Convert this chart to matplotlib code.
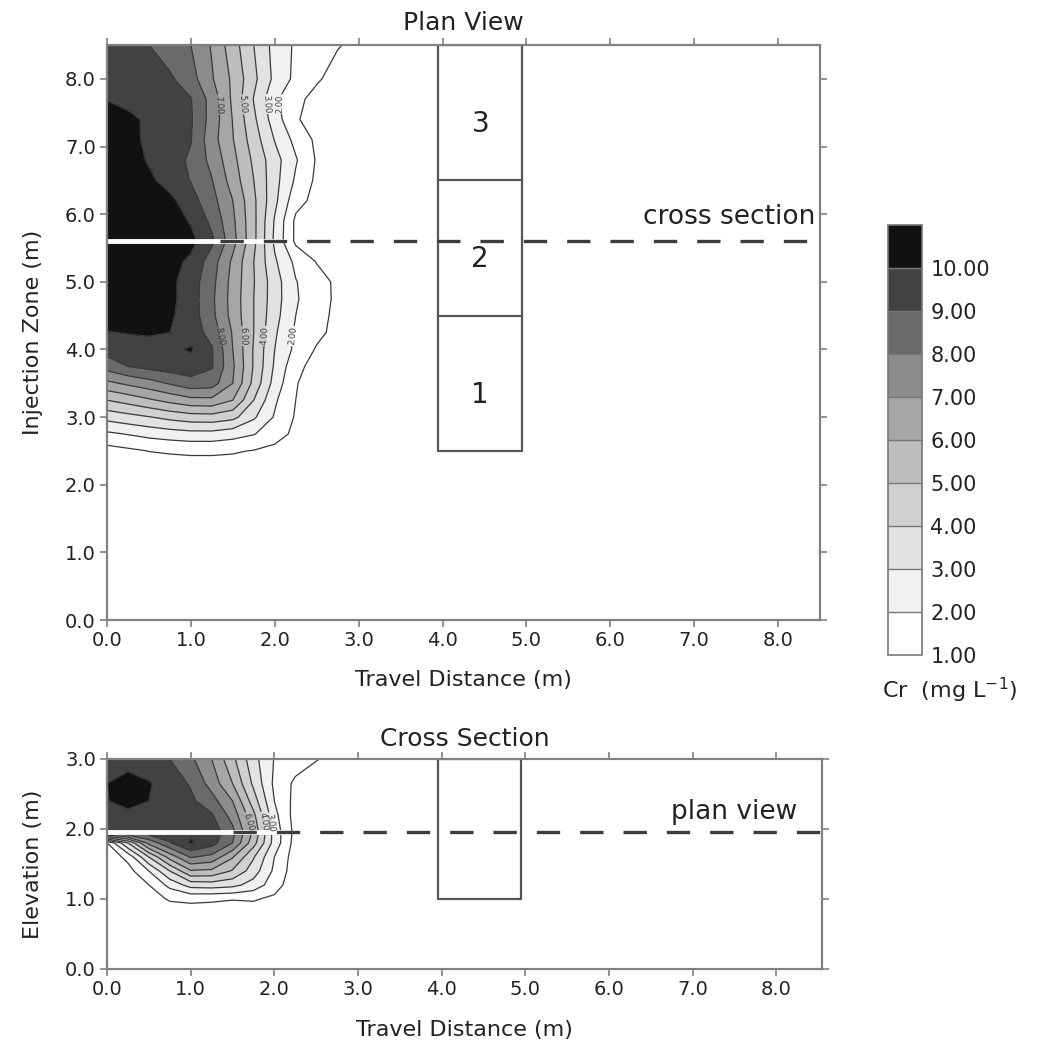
import numpy as np
import matplotlib.pyplot as plt
from matplotlib.patches import Rectangle

plt.rcParams['font.family'] = ['DejaVu Sans']

# Cr concentration (mg/L) on a coarse grid
x_grid = [0, 0.25, 0.5, 0.75, 1.0, 1.25, 1.5, 1.75, 2.0, 2.25, 2.5, 2.75, 3.0, 3.5, 8.5]

# plan view rows (injection zone, m)
y_plan = [0.0, 2.25, 2.5, 2.75, 3.0, 3.25, 3.5, 3.75, 4.0, 4.25, 4.5, 4.75,
          5.0, 5.3, 5.6, 5.9, 6.2, 6.5, 6.8, 7.1, 7.4, 7.7, 8.0, 8.5]
cr_plan = [
    [0] * 15,                                                                      # 0.0
    [0.3, 0.4, 0.5, 0.55, 0.6, 0.6, 0.55, 0.5, 0.4, 0.3, 0.2, 0.15, 0.1, 0.05, 0],   # 2.25
    [0.6, 0.8, 1.02, 1.1, 1.15, 1.15, 1.1, 0.95, 0.7, 0.45, 0.3, 0.2, 0.15, 0.05, 0],
    [1.8, 2.05, 2.3, 2.5, 2.65, 2.65, 2.4, 2.05, 1.45, 0.75, 0.45, 0.3, 0.2, 0.1, 0],
    [3.35, 3.65, 3.95, 4.3, 4.55, 4.6, 4.3, 3.15, 1.9, 0.9, 0.5, 0.35, 0.25, 0.1, 0],  # 3.0
    [5.0, 5.4, 5.85, 6.3, 6.7, 6.75, 6.0, 4.0, 2.15, 1.0, 0.55, 0.4, 0.3, 0.1, 0],
    [6.75, 7.2, 7.6, 8.1, 8.6, 8.45, 7.0, 4.7, 2.6, 1.05, 0.6, 0.4, 0.3, 0.1, 0],
    [8.45, 9.0, 9.3, 9.5, 9.6, 9.1, 7.15, 4.9, 2.85, 1.3, 0.6, 0.45, 0.3, 0.1, 0],
    [9.4, 9.5, 9.65, 9.8, 10.1, 9.1, 7.0, 4.9, 3.0, 1.75, 0.9, 0.55, 0.4, 0.15, 0],  # 4.0
    [9.95, 10.05, 10.1, 10.0, 9.6, 8.6, 6.9, 5.0, 3.15, 1.85, 1.25, 0.7, 0.45, 0.2, 0],
    [10.5, 10.5, 10.4, 10.15, 9.5, 8.25, 6.65, 5.0, 3.35, 2.0, 1.35, 0.75, 0.45, 0.2, 0],
    [10.9, 10.8, 10.5, 10.25, 9.5, 8.2, 6.6, 5.0, 3.45, 2.1, 1.45, 0.8, 0.5, 0.2, 0],
    [11.0, 10.9, 10.6, 10.25, 9.5, 8.3, 6.65, 5.05, 3.45, 2.05, 1.4, 0.8, 0.5, 0.2, 0],  # 5.0
    [11.1, 11.0, 10.8, 10.35, 9.8, 8.5, 6.8, 5.0, 3.15, 1.75, 0.95, 0.6, 0.4, 0.15, 0],
    [11.2, 11.15, 11.0, 10.7, 10.3, 9.2, 7.35, 5.25, 2.8, 0.8, 0.55, 0.4, 0.3, 0.1, 0],
    [11.2, 11.1, 10.9, 10.5, 9.9, 8.75, 7.2, 5.25, 2.9, 0.8, 0.55, 0.4, 0.3, 0.1, 0],
    [11.2, 11.0, 10.7, 10.25, 9.4, 8.35, 7.0, 5.2, 3.25, 1.35, 0.7, 0.5, 0.35, 0.15, 0],
    [11.2, 10.8, 10.2, 9.6, 8.95, 8.05, 6.55, 5.0, 3.35, 1.85, 0.8, 0.55, 0.4, 0.15, 0],
    [11.0, 10.5, 9.9, 9.4, 8.85, 7.7, 6.3, 4.8, 3.4, 2.1, 0.9, 0.6, 0.4, 0.15, 0],
    [10.8, 10.3, 9.8, 9.4, 9.05, 7.4, 6.05, 4.5, 2.95, 1.7, 0.8, 0.5, 0.35, 0.15, 0],
    [10.6, 10.2, 9.85, 9.45, 9.1, 7.6, 5.95, 4.2, 2.5, 1.1, 0.6, 0.4, 0.3, 0.1, 0],
    [9.95, 9.75, 9.55, 9.3, 9.05, 7.6, 5.8, 3.95, 2.2, 1.2, 0.75, 0.5, 0.35, 0.15, 0],
    [9.8, 9.6, 9.4, 9.15, 8.4, 7.1, 5.8, 4.25, 2.75, 1.75, 1.1, 0.7, 0.5, 0.25, 0],
    [9.6, 9.3, 9.0, 8.5, 8.0, 6.9, 5.45, 4.0, 2.65, 1.85, 1.45, 1.05, 0.8, 0.4, 0],  # 8.5
]

# cross section rows (elevation, m)
z_cross = [0.0, 0.8, 1.0, 1.2, 1.4, 1.6, 1.8, 1.95, 2.2, 2.4, 2.65, 3.0]
cr_cross = [
    [0] * 15,
    [0, 0.05, 0.3, 0.5, 0.55, 0.5, 0.45, 0.5, 0.35, 0.1, 0.05, 0.05, 0, 0, 0],
    [0, 0.1, 0.6, 1.1, 1.2, 1.15, 1.05, 1.1, 0.8, 0.2, 0.15, 0.1, 0.05, 0, 0],
    [0.05, 0.3, 1.0, 2.3, 3.4, 3.5, 3.3, 2.6, 1.45, 0.35, 0.2, 0.15, 0.1, 0.05, 0],
    [0.1, 0.6, 2.0, 4.0, 5.9, 5.8, 4.9, 3.5, 1.8, 0.45, 0.3, 0.2, 0.15, 0.05, 0],
    [0.3, 1.3, 4.0, 6.4, 8.1, 7.7, 6.1, 4.1, 2.0, 0.5, 0.35, 0.25, 0.15, 0.05, 0],
    [0.95, 4.0, 7.3, 8.9, 10.1, 9.4, 8.0, 5.4, 2.6, 0.6, 0.4, 0.3, 0.2, 0.1, 0],
    [9.0, 9.3, 9.5, 9.7, 9.9, 9.6, 8.3, 5.8, 2.6, 0.7, 0.45, 0.3, 0.2, 0.1, 0],
    [9.6, 9.7, 9.7, 9.55, 9.35, 9.1, 7.6, 5.25, 2.3, 0.6, 0.4, 0.3, 0.2, 0.1, 0],
    [9.95, 10.4, 10.0, 9.6, 9.2, 8.4, 7.0, 4.5, 2.0, 0.7, 0.45, 0.3, 0.2, 0.1, 0],
    [10.0, 10.6, 10.1, 9.5, 8.9, 7.6, 6.0, 3.8, 1.8, 0.8, 0.5, 0.35, 0.25, 0.1, 0],
    [9.5, 9.35, 9.2, 9.0, 8.2, 7.0, 5.25, 3.35, 1.95, 1.5, 1.05, 0.7, 0.5, 0.25, 0],
]

line_levels = [1, 2, 3, 4, 5, 6, 7, 8, 9, 10]
fill_levels = line_levels + [100]
greys = ['#ffffff', '#f1f1f1', '#e2e2e2', '#d0d0d0', '#bdbdbd',
         '#a6a6a6', '#8c8c8c', '#6a6a6a', '#424242', '#111111']

# injection zones and slice positions
zone_x = [3.95, 4.95]
zone_edges = [2.5, 4.5, 6.5, 8.5]
zone_names = ['1', '2', '3']
cross_y = 5.6
plan_z = 1.95
box_z = [1.0, 3.0]

spine_col = '#808080'
line_col = '#3a3a3a'


def style(ax):
    for s in ax.spines.values():
        s.set_color(spine_col)
        s.set_linewidth(1.6)
    ax.tick_params(direction='out', length=5, width=1.2, color=spine_col,
                   labelsize=14, labelcolor='#222222', top=True, right=True, pad=3)
    ax.set_xticks(range(9))
    ax.set_xticklabels([f'{v:.1f}' for v in range(9)])


fig = plt.figure(figsize=(10.46, 10.40), dpi=100)
ax1 = fig.add_axes([0.1023, 0.4038, 0.6816, 0.5529])
ax2 = fig.add_axes([0.1023, 0.0683, 0.6840, 0.2019])
cax = fig.add_axes([0.849, 0.370, 0.0325, 0.4135])

# plan view
cf = ax1.contourf(x_grid, y_plan, cr_plan, levels=fill_levels, colors=greys)
cs1 = ax1.contour(x_grid, y_plan, cr_plan, levels=line_levels, colors=line_col, linewidths=0.9)
ax1.clabel(cs1, fmt='%.2f', fontsize=6, inline_spacing=1,
           manual=[(1.33, 7.62), (1.6, 7.62), (1.85, 7.62), (2.0, 7.62),
                   (1.37, 4.2), (1.62, 4.2), (1.88, 4.2), (2.2, 4.2)])
ax1.plot([0, 2.1], [cross_y, cross_y], color='white', lw=3.5, solid_capstyle='butt')
ax1.plot([1.35, 8.5], [cross_y, cross_y], color='#3c3c3c', lw=2.4, ls=(0, (7, 6)))
ax1.add_patch(Rectangle((zone_x[0], zone_edges[0]), zone_x[1] - zone_x[0],
                        zone_edges[-1] - zone_edges[0], fill=False, ec='#555555', lw=1.6))
for e in zone_edges[1:-1]:
    ax1.plot(zone_x, [e, e], color='#555555', lw=1.6)
for i, name in enumerate(zone_names):
    ax1.text(sum(zone_x) / 2, (zone_edges[i] + zone_edges[i + 1]) / 2 - 0.17, name,
             ha='center', va='center', fontsize=20, color='#222222')
ax1.text(8.45, cross_y + 0.17, 'cross section', ha='right', va='bottom', fontsize=19, color='#222222')
ax1.set_xlim(0, 8.5)
ax1.set_ylim(0, 8.5)
style(ax1)
ax1.set_yticks(range(9))
ax1.set_yticklabels([f'{v:.1f}' for v in range(9)])
ax1.set_xlabel('Travel Distance (m)', fontsize=16, labelpad=14, color='#222222')
ax1.set_ylabel('Injection Zone (m)', fontsize=16, labelpad=16, color='#222222')
ax1.set_title('Plan View', fontsize=18, pad=11, color='#222222')

# cross section
ax2.contourf(x_grid, z_cross, cr_cross, levels=fill_levels, colors=greys)
cs2 = ax2.contour(x_grid, z_cross, cr_cross, levels=line_levels, colors=line_col, linewidths=0.9)
ax2.clabel(cs2, fmt='%.2f', fontsize=6, inline_spacing=1,
           manual=[(1.68, 2.1), (1.84, 2.1), (2.0, 2.1)])
ax2.plot([0, 2.1], [plan_z, plan_z], color='white', lw=3.5, solid_capstyle='butt')
ax2.plot([1.5, 8.55], [plan_z, plan_z], color='#3c3c3c', lw=2.4, ls=(0, (7, 6)))
ax2.add_patch(Rectangle((zone_x[0], box_z[0]), zone_x[1] - zone_x[0], box_z[1] - box_z[0],
                        fill=False, ec='#555555', lw=1.6))
ax2.text(8.25, plan_z + 0.1, 'plan view', ha='right', va='bottom', fontsize=19, color='#222222')
ax2.set_xlim(0, 8.55)
ax2.set_ylim(0, 3.0)
style(ax2)
ax2.set_yticks([0, 1, 2, 3])
ax2.set_yticklabels([f'{v:.1f}' for v in [0, 1, 2, 3]])
ax2.set_xlabel('Travel Distance (m)', fontsize=16, labelpad=15, color='#222222')
ax2.set_ylabel('Elevation (m)', fontsize=16, labelpad=16, color='#222222')
ax2.set_title('Cross Section', fontsize=18, pad=9, color='#222222')

# colour bar
cb = fig.colorbar(cf, cax=cax, ticks=line_levels, drawedges=True)
cb.ax.set_yticklabels([f'{v:.2f}' for v in line_levels])
cb.ax.tick_params(length=0, labelsize=15, pad=6, labelcolor='#222222')
cb.outline.set_edgecolor('#777777')
cb.outline.set_linewidth(1.2)
cb.dividers.set_color('#777777')
cb.dividers.set_linewidth(1.0)
fig.text(0.908, 0.336, r'Cr  (mg L$^{\mathregular{-1}}$)', ha='center', va='center',
         fontsize=16, color='#222222')

fig.savefig('out.png', dpi=100)
